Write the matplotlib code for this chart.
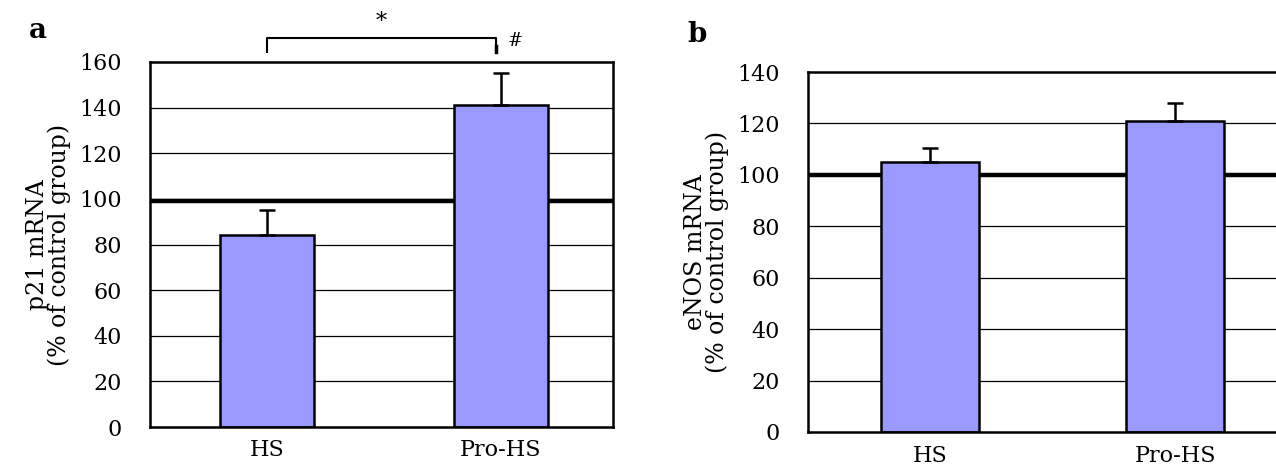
import numpy as np
import matplotlib
matplotlib.use("Agg")
import matplotlib.pyplot as plt

# ---------------------- Data ----------------------
groups = ["HS", "Pro-HS"]
p21_mean = [84, 141]
p21_err = [11, 14]
enos_mean = [105, 121]
enos_err = [5.5, 7]

bar_color = "#9999ff"
plt.rcParams['font.family'] = ['DejaVu Serif']

fig = plt.figure(figsize=(12.76, 4.71), dpi=100)
W, H = 1276, 471


def panel(rect, means, errs, ymax, ylabel, ref=100):
    ax = fig.add_axes(rect)
    x = np.arange(len(groups))
    ax.set_xlim(-0.5, 1.48)
    ax.set_ylim(0, ymax)
    ticks = np.arange(0, ymax + 1, 20)
    # grid lines
    for t in ticks[1:-1]:
        ax.axhline(t, color="black", lw=0.9, zorder=1)
    ax.axhline(ref, color="black", lw=3.2, zorder=1.5)
    ax.bar(x, means, width=0.4, color=bar_color, edgecolor="black",
           linewidth=1.8, zorder=2)
    ax.errorbar(x, means, yerr=[[0, 0], errs], fmt="none", ecolor="black",
                elinewidth=1.8, capsize=6, capthick=1.8, zorder=3)
    ax.set_yticks(ticks)
    ax.set_yticklabels([str(t) for t in ticks], fontsize=16)
    ax.set_xticks(x)
    ax.set_xticklabels(groups, fontsize=16)
    ax.tick_params(axis="y", length=0, pad=20)
    ax.tick_params(axis="x", length=0, pad=9)
    for s in ax.spines.values():
        s.set_linewidth(1.8)
    ax.set_ylabel(ylabel, fontsize=17, labelpad=6, linespacing=0.95)
    return ax


ax_a = panel([150 / W, 1 - 427 / H, 463 / W, 365 / H], p21_mean, p21_err, 160,
             "p21 mRNA\n(% of control group)", ref=99)
ax_b = panel([808 / W, 1 - 432 / H, 485 / W, 360 / H], enos_mean, enos_err, 140,
             "eNOS mRNA\n(% of control group)")

# significance bracket on panel a
ax_a.plot([0, 0, 0.98, 0.98], [164.5, 170.5, 170.5, 164.5], color="black",
          lw=1.5, clip_on=False)
ax_a.plot([0.98, 0.98], [164.5, 167], color="black", lw=2.5, clip_on=False)
ax_a.text(0.49, 172.5, "*", ha="center", va="bottom", fontsize=16)
ax_a.text(1.03, 169, "#", ha="left", va="center", fontsize=13)

fig.text(38 / W, 1 - 30 / H, "a", fontsize=20, fontweight="bold", ha="center", va="center")
fig.text(697 / W, 1 - 35 / H, "b", fontsize=20, fontweight="bold", ha="center", va="center")

fig.savefig("out.png", dpi=100)
